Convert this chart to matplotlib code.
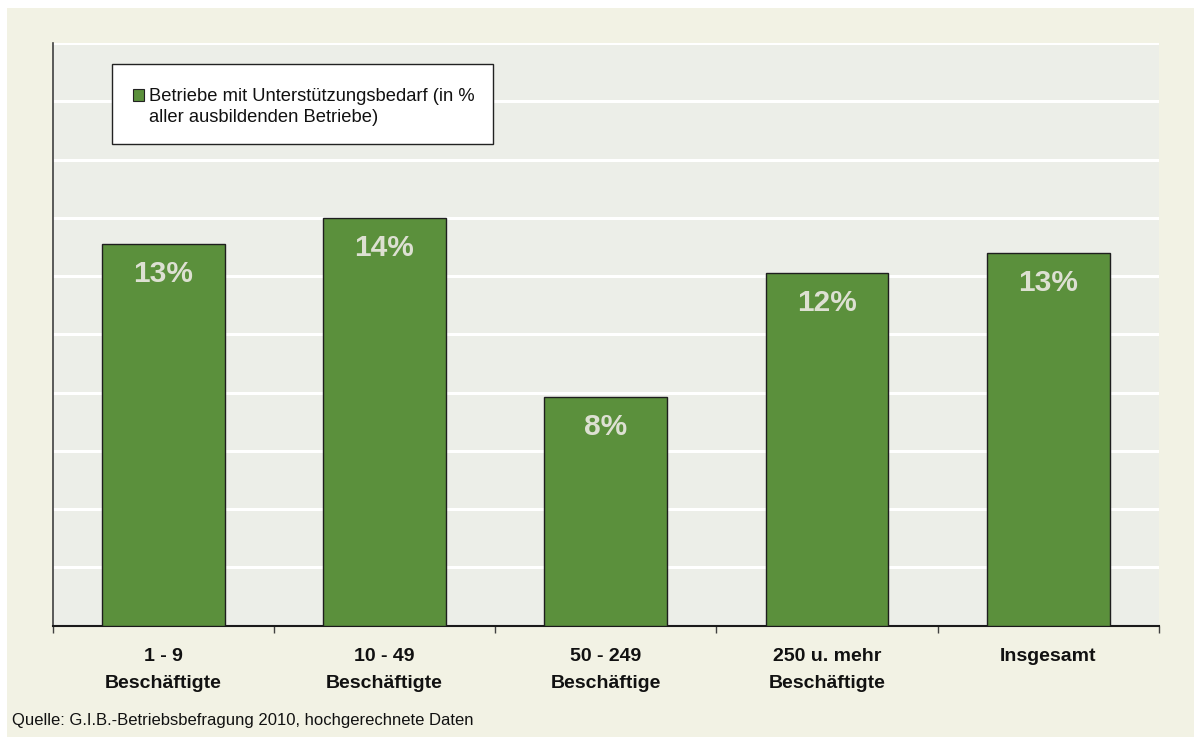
import matplotlib
matplotlib.use("Agg")
import matplotlib.pyplot as plt
from matplotlib.patches import Rectangle

plt.rcParams['font.family'] = ['Liberation Sans', 'DejaVu Sans']

categories = ["1 - 9\nBeschäftigte", "10 - 49\nBeschäftigte", "50 - 249\nBeschäftige",
              "250 u. mehr\nBeschäftigte", "Insgesamt"]
values = [13.1, 14.0, 7.85, 12.1, 12.8]
value_labels = ["13%", "14%", "8%", "12%", "13%"]
legend_label = "Betriebe mit Unterstützungsbedarf (in %\naller ausbildenden Betriebe)"
source = "Quelle: G.I.B.-Betriebsbefragung 2010, hochgerechnete Daten"

W, H = 1194, 737
DPI = 100
fig = plt.figure(figsize=(W / DPI, H / DPI), dpi=DPI, facecolor="white")

def fx(px):
    return px / W

def fy(py):
    return 1 - py / H

# beige background panel
fig.patches.append(Rectangle((fx(7), 0), 1 - fx(7), fy(8), transform=fig.transFigure,
                             facecolor="#F2F2E4", edgecolor="none", zorder=-5))

left, right, top, bottom = 52.5, 1159, 43, 625.5
ax = fig.add_axes([fx(left), fy(bottom), fx(right) - fx(left), fy(top) - fy(bottom)])
ax.set_zorder(1)
ax.set_facecolor("#ECEEE8")

green = "#5B903C"
x = list(range(len(values)))
bars = ax.bar(x, values, width=0.555, color=green, edgecolor="#1E1E1E", linewidth=1.0, zorder=3)

for xi, v, lab in zip(x, values, value_labels):
    ax.annotate(lab, (xi, v), xytext=(0, -21.6), textcoords="offset points",
                ha="center", va="center", fontsize=21.5, fontweight="bold",
                color="#DDE0D2", zorder=4)

ax.set_xlim(-0.5, len(values) - 0.5)
ax.set_ylim(0, 20)
ax.set_yticks(range(2, 21, 2))
ax.yaxis.grid(True, color="white", linewidth=2.2, zorder=1)
ax.set_axisbelow(True)
ax.tick_params(axis="y", left=False, labelleft=False)

ax.set_xticks([i - 0.5 for i in range(len(values) + 1)])
ax.set_xticklabels([])
ax.set_xticks(x, minor=True)
ax.set_xticklabels(categories, minor=True, fontsize=14, fontweight="bold", color="#111111")
for t in ax.get_xticklabels(minor=True):
    t.set_linespacing(1.75)
ax.tick_params(axis="x", which="major", direction="out", length=5, width=1, color="#404040")
ax.tick_params(axis="x", which="minor", length=0, pad=16.5)

for s in ["top", "right"]:
    ax.spines[s].set_visible(False)
ax.spines["left"].set_color("#404040")
ax.spines["left"].set_linewidth(1.2)
ax.spines["bottom"].set_color("#1A1A1A")
ax.spines["bottom"].set_linewidth(1.5)

# legend (manual box, drawn above the axes)
lx0, ly0, lx1, ly1 = 112, 64, 493, 144
fig.patches.append(Rectangle((fx(lx0), fy(ly1)), fx(lx1) - fx(lx0), fy(ly0) - fy(ly1),
                             transform=fig.transFigure, facecolor="white",
                             edgecolor="#222222", linewidth=1.0, zorder=5))
sq = 11
fig.patches.append(Rectangle((fx(133), fy(95 + sq / 2)), fx(sq), sq / H,
                             transform=fig.transFigure, facecolor=green,
                             edgecolor="#222222", linewidth=0.8, zorder=6))
for i, line in enumerate(legend_label.split("\n")):
    fig.text(fx(149), fy(101 + 21 * i), line, ha="left", va="baseline", fontsize=13.2,
             color="#111111", zorder=6)

fig.text(fx(12), fy(720), source, ha="left", va="center", fontsize=12, color="#111111")

fig.savefig("out.png", dpi=DPI, facecolor=fig.get_facecolor())
